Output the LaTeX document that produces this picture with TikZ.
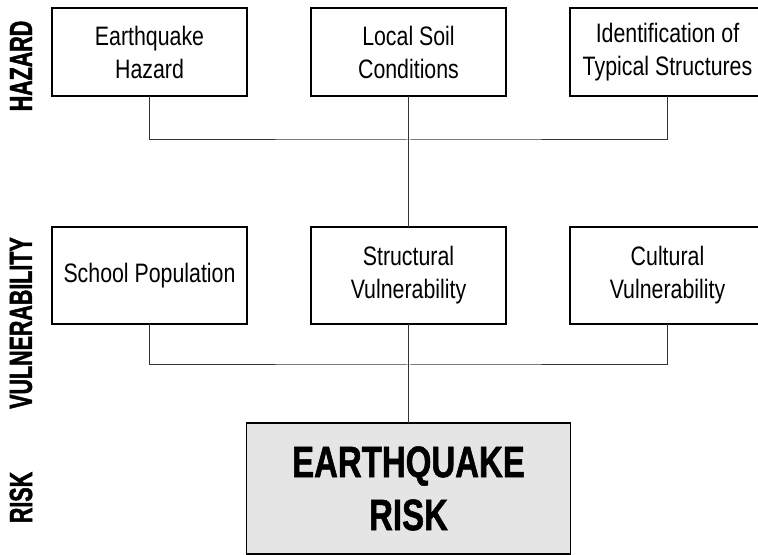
\documentclass[tikz,border=0pt]{standalone}
\usepackage{fontspec}
\setmainfont{Liberation Sans}[FakeStretch=0.8]
\newfontfamily\riskfont{Liberation Sans}[FakeStretch=0.75,BoldFeatures={FakeBold=1.2}]
\newfontfamily\sidefont{Liberation Sans}[FakeStretch=0.67,BoldFeatures={FakeBold=1.5}]
\begin{document}
\begin{tikzpicture}[x=0.75pt,y=-0.75pt,
  box/.style={draw=black, line width=0.9pt, fill=white, align=center, inner sep=0pt, outer sep=0pt,
    minimum width=146.25pt, font=\fontsize{20}{24.75}\selectfont},
  toprow/.style={box, minimum height=66pt},
  midrow/.style={box, minimum height=72.75pt},
  riskbox/.style={draw=black, line width=0.9pt, fill=black!10, align=center, inner sep=0pt, outer sep=0pt,
    minimum width=243pt, minimum height=98.25pt, font=\riskfont\bfseries\fontsize{33}{39.75}\selectfont},
  side/.style={rotate=90, inner sep=0pt, font=\sidefont\bfseries\fontsize{24}{28}\selectfont},
  wire/.style={draw=black!80, line width=0.75pt}]
\clip (0,0) rectangle (758,555);
% top row
\node[toprow] (eh) at (149.5,52) {Earthquake\\Hazard};
\node[toprow] (ls) at (408.5,52) {Local Soil\\Conditions};
\node[toprow] (ts) at (667.5,52) {Identification of\\Typical Structures};
% middle row
\node[midrow] (sp) at (149.5,275.5) {School Population};
\node[midrow] (sv) at (408.5,275.5) {Structural\\Vulnerability};
\node[midrow] (cv) at (667.5,275.5) {Cultural\\Vulnerability};
% risk
\node[riskbox] (er) at (408.5,488.5) {EARTHQUAKE\\RISK};
% side labels
\node[side] (lh) at (21,66) {HAZARD};
\node[side] (lv) at (21,323) {VULNERABILITY};
\node[side] (lr) at (21,497.5) {RISK};
% connectors
\coordinate (j1) at (408.5,140);
\coordinate (j2) at (408.5,365);
\draw[wire] (eh.south) |- (j1) -| (ts.south);
\draw[wire] (ls.south) -- (sv.north);
\draw[wire] (sp.south) |- (j2) -| (cv.south);
\draw[wire] (sv.south) -- (er.north);
\end{tikzpicture}
\end{document}
